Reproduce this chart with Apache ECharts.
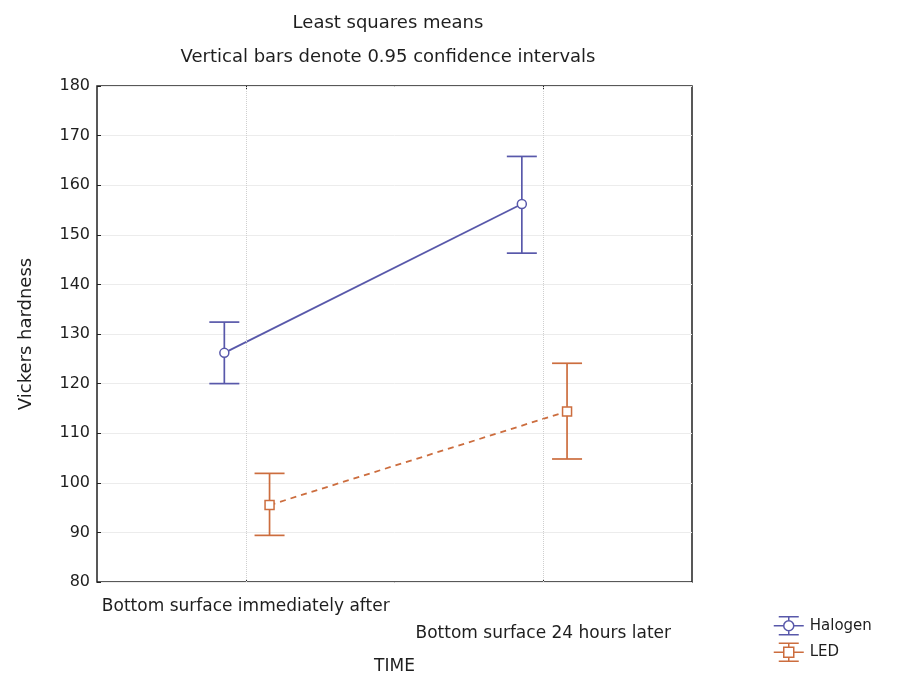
<!DOCTYPE html>
<html><head><meta charset="utf-8">
<script src="https://cdn.jsdelivr.net/npm/echarts@6/dist/echarts.min.js"></script>
<style>html,body{margin:0;padding:0;background:#fff}#c{width:905px;height:675px}</style>
</head><body><div id="c"></div>
<script>
const categories = ['Bottom surface immediately after', 'Bottom surface 24 hours later'];
const seriesNames = ['Halogen', 'LED'];
const halogenMean = [126.2, 156.2];
const halogenLow = [120.0, 146.3];
const halogenHigh = [132.4, 165.8];
const ledMean = [95.5, 114.4];
const ledLow = [89.4, 104.8];
const ledHigh = [101.9, 124.1];
const yTicks = [80, 180, 10];

const font = 'DejaVu Sans, Verdana, sans-serif';
const txt = '#1e1e1e';
const colors = { Halogen: '#5858aa', LED: '#cc6d3e' };

function makeData(mean, low, high) {
  return mean.map((m, i) => [i, m, low[i], high[i]]);
}

function makeRender(name, mean, offsetFrac, symbol, dashed) {
  const color = colors[name];
  return function (params, api) {
    const i = api.value(0);
    const band = api.size([1, 0])[0];
    const dx = band * offsetFrac;
    const p = api.coord([i, api.value(1)]);
    const lo = api.coord([i, api.value(2)]);
    const hi = api.coord([i, api.value(3)]);
    const x = p[0] + dx;
    const cap = 15;
    const children = [];
    if (i < mean.length - 1) {
      const q = api.coord([i + 1, mean[i + 1]]);
      children.push({ type: 'line', shape: { x1: x, y1: p[1], x2: q[0] + dx, y2: q[1] },
        style: { stroke: color, lineWidth: 1.8, lineDash: dashed ? [6, 5] : null } });
    }
    const s = { stroke: color, lineWidth: 1.7 };
    children.push({ type: 'line', shape: { x1: x, y1: hi[1], x2: x, y2: lo[1] }, style: s });
    children.push({ type: 'line', shape: { x1: x - cap, y1: hi[1], x2: x + cap, y2: hi[1] }, style: s });
    children.push({ type: 'line', shape: { x1: x - cap, y1: lo[1], x2: x + cap, y2: lo[1] }, style: s });
    if (symbol === 'circle') {
      children.push({ type: 'circle', shape: { cx: x, cy: p[1], r: 4.5 }, style: { fill: '#fff', stroke: color, lineWidth: 1.5 } });
    } else {
      children.push({ type: 'rect', shape: { x: x - 4.5, y: p[1] - 4.5, width: 9, height: 9 }, style: { fill: '#fff', stroke: color, lineWidth: 1.5 } });
    }
    return { type: 'group', children };
  };
}

const chart = echarts.init(document.getElementById('c'), null, { renderer: 'canvas' });
const iconCircle = 'path://M0,10H10M20,10H30M5,1H25M5,19H25M15,1V5M15,15V19M10,10A5,5 0 1,0 20,10A5,5 0 1,0 10,10Z';
const iconRect = 'path://M0,10H10M20,10H30M5,1H25M5,19H25M15,1V5M15,15V19M10,5H20V15H10Z';
chart.setOption({
  animation: false,
  backgroundColor: '#fff',
  title: {
    text: 'Least squares means',
    subtext: 'Vertical bars denote 0.95 confidence intervals',
    left: 383, top: 9, textAlign: 'center', itemGap: 16,
    textStyle: { fontFamily: font, fontSize: 18, fontWeight: 'normal', color: txt },
    subtextStyle: { fontFamily: font, fontSize: 18, color: txt }
  },
  legend: {
    orient: 'vertical', left: 768, top: 611, itemGap: 7, itemWidth: 32, itemHeight: 18,
    textStyle: { fontFamily: font, fontSize: 15, color: txt },
    data: [
      { name: 'Halogen', icon: iconCircle, itemStyle: { color: '#fff', borderColor: colors.Halogen, borderWidth: 1.5 } },
      { name: 'LED', icon: iconRect, itemStyle: { color: '#fff', borderColor: colors.LED, borderWidth: 1.5 } }
    ]
  },
  grid: { left: 97, right: 213, top: 86, bottom: 93, outerBoundsMode: 'none', containLabel: false,
    show: true, borderColor: '#222', borderWidth: 1.5, backgroundColor: 'transparent' },
  xAxis: [{
    type: 'category', data: categories, boundaryGap: true,
    name: 'TIME', nameLocation: 'middle', nameGap: 76,
    nameTextStyle: { fontFamily: font, fontSize: 17, color: txt },
    axisLine: { show: false },
    axisTick: { show: true, alignWithLabel: true, inside: true, length: 3, lineStyle: { color: '#222' } },
    splitLine: { show: false },
    axisLabel: {
      fontFamily: font, fontSize: 17, color: txt, margin: 11, lineHeight: 27, interval: 0,
      formatter: (v, i) => (i === 1 ? '\n' + v : v)
    }
  }, {
    type: 'category', data: categories, position: 'top', boundaryGap: true,
    axisLine: { show: false }, axisLabel: { show: false },
    axisTick: { show: true, alignWithLabel: true, inside: true, length: 3, lineStyle: { color: '#222' } }
  }],
  yAxis: {
    type: 'value', min: yTicks[0], max: yTicks[1], interval: yTicks[2],
    name: 'Vickers hardness', nameLocation: 'middle', nameGap: 62, nameRotate: 90,
    nameTextStyle: { fontFamily: font, fontSize: 18, color: txt },
    axisLine: { show: false },
    axisTick: { show: true, inside: true, length: 4, lineStyle: { color: '#222' } },
    splitLine: { show: true, lineStyle: { color: '#ececec', width: 1 } },
    axisLabel: { fontFamily: font, fontSize: 16, color: txt, margin: 7 }
  },
  series: [
    {
      name: 'Halogen', type: 'custom', renderItem: makeRender('Halogen', halogenMean, -0.072, 'circle', false),
      data: makeData(halogenMean, halogenLow, halogenHigh), itemStyle: { color: colors.Halogen },
      encode: { x: 0, y: [1, 2, 3] }, z: 3,
      markLine: {
        silent: true, symbol: 'none', label: { show: false },
        lineStyle: { color: '#cfcfcf', type: 'dotted', width: 1 },
        data: categories.map((c) => ({ xAxis: c }))
      }
    },
    {
      name: 'LED', type: 'custom', renderItem: makeRender('LED', ledMean, 0.08, 'rect', true),
      data: makeData(ledMean, ledLow, ledHigh), itemStyle: { color: colors.LED },
      encode: { x: 0, y: [1, 2, 3] }, z: 3
    }
  ]
});
</script></body></html>
